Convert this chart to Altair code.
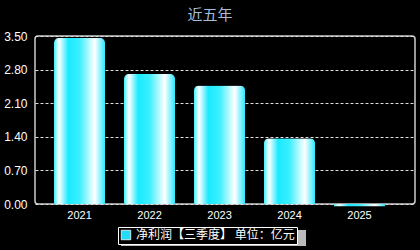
import altair as alt
import pandas as pd

years = ["2021", "2022", "2023", "2024", "2025"]
profit = [3.46, 2.71, 2.47, 1.37, -0.05]
series = "净利润【三季度】 单位：亿元"
y_ticks = [0, 0.7, 1.4, 2.1, 2.8, 3.5]

df = pd.DataFrame({"year": years, "value": profit, "series": [series] * len(years)})

grad = {
    "gradient": "linear", "x1": 0, "x2": 1, "y1": 0, "y2": 0,
    "stops": [
        {"offset": 0.0, "color": "#3ff0ff"},
        {"offset": 0.1, "color": "#ffffff"},
        {"offset": 0.28, "color": "#1aeaff"},
        {"offset": 0.5, "color": "#3cefff"},
        {"offset": 0.8, "color": "#ffffff"},
        {"offset": 1.0, "color": "#2ae8ff"},
    ],
}

xscale = alt.Scale(paddingInner=0.271, paddingOuter=0.35, align=0.388)
yscale = alt.Scale(domain=[0, 3.5], nice=False)

bars = alt.Chart(df).mark_bar(
    color=grad, cornerRadiusTopLeft=5, cornerRadiusTopRight=5, clip=False
).encode(
    x=alt.X("year:N", scale=xscale, sort=years,
            axis=alt.Axis(title=None, labelAngle=0, labelColor="white", labelFontSize=11,
                          labelFont="Liberation Sans", ticks=False, domain=False,
                          labelPadding=5)),
    y=alt.Y("value:Q", scale=yscale,
            axis=alt.Axis(title=None, values=y_ticks, format=".2f", labelColor="white",
                          labelFontSize=12, labelFont="Liberation Sans", ticks=False,
                          domain=False, labelPadding=8, grid=True, gridColor="#dddddd",
                          gridDash=[3, 2], gridWidth=1, labelOverlap=False,
                          labelFlush=False)),
)

legend_layer = alt.Chart(df).mark_square(opacity=0, size=1).encode(
    color=alt.Color("series:N", scale=alt.Scale(range=["#22ddf5"]),
                    legend=alt.Legend(title=None, orient="none", legendX=83, legendY=191,
                                      symbolType="square", symbolSize=90, symbolOpacity=1,
                                      symbolStrokeColor="white", symbolStrokeWidth=0.8,
                                      labelColor="white", labelFontSize=12,
                                      labelFont="Noto Sans CJK SC", fillColor="black",
                                      strokeColor="white", padding=2, labelLimit=300)),
)

shadow = alt.Chart(df).mark_rect(color="#bbbbbb").encode(
    x=alt.value(86), x2=alt.value(271), y=alt.value(194), y2=alt.value(210)
).transform_filter(alt.datum.year == "2021")

chart = alt.layer(shadow, bars, legend_layer).properties(
    width=380, height=168,
    autosize=alt.AutoSizeParams(type="none"),
    padding={"left": 35, "top": 36, "right": 5, "bottom": 46},
    background="black",
    title=alt.Title("近五年", color="#a8bcd8", fontSize=15, font="Noto Sans CJK SC",
                    fontWeight="normal", anchor="middle", dx=-15, dy=10, offset=2,
                    baseline="bottom"),
).configure_view(stroke="#cccccc", strokeWidth=1.5, cornerRadius=3)

chart.save("out.html", embed_options={"renderer": "svg", "actions": False})
